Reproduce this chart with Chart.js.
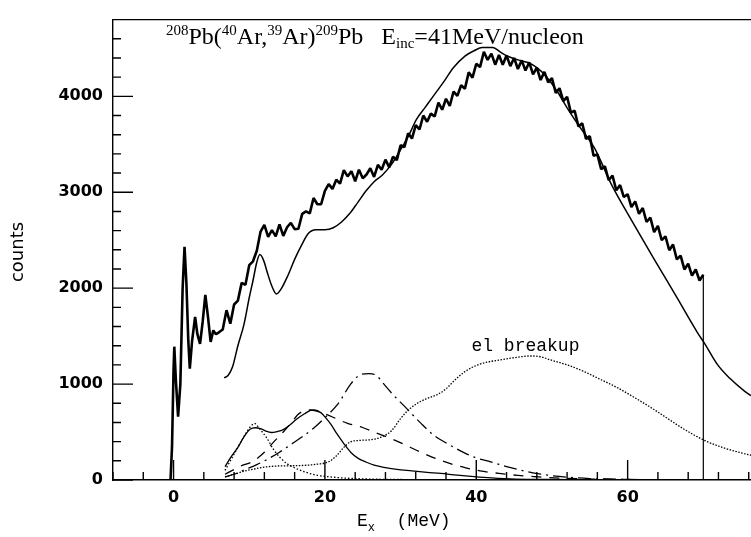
<!DOCTYPE html>
<html>
<head>
<meta charset="utf-8">
<script src="https://cdn.jsdelivr.net/npm/chart.js@4.4.1/dist/chart.umd.min.js"></script>
<style>
  html, body { margin: 0; padding: 0; background: #fff; }
  #wrap { width: 751px; height: 537px; }
</style>
</head>
<body>
<div id="wrap"><canvas id="chart-spectrum"></canvas></div>
<script>
/* 208Pb(40Ar,39Ar)209Pb excitation spectrum */

const X_LABELS = [0, 20, 40, 60];
const Y_LABELS = [0, 1000, 2000, 3000, 4000];

// measured counts [Ex MeV, counts]
const measured = [
  [-0.4, 0], [-0.2, 350], [0, 1150], [0.1, 1390], [0.3, 1050], [0.6, 660], [0.9, 1000],
  [1.2, 2000], [1.45, 2430], [1.7, 2050], [1.95, 1450], [2.15, 1160], [2.45, 1450],
  [2.85, 1700], [3.15, 1520], [3.5, 1420], [3.85, 1650], [4.2, 1930], [4.55, 1700],
  [4.9, 1440], [5.25, 1560], [5.6, 1520],
  [6.0, 1540], [6.5, 1570], [7.0, 1770], [7.5, 1630], [8.0, 1830], [8.5, 1870],
  [9.0, 2055], [9.5, 2035], [10.0, 2240], [10.5, 2280], [11.0, 2390], [11.5, 2590],
  [12.0, 2660], [12.5, 2535], [13.0, 2605], [13.5, 2540], [14.0, 2665], [14.5, 2545],
  [15.0, 2635], [15.5, 2680], [16.0, 2615], [16.5, 2620], [17.0, 2775], [17.5, 2800],
  [18.0, 2780], [18.5, 2940], [19.0, 2875], [19.5, 2875], [20.0, 3015], [20.5, 3085],
  [21.0, 3035], [21.5, 3130], [22.0, 3090], [22.5, 3230], [23.0, 3165], [23.5, 3220],
  [24.0, 3115], [24.5, 3235], [25.0, 3145], [25.5, 3185], [26.0, 3250], [26.5, 3160],
  [27.0, 3285], [27.5, 3235], [28.0, 3340], [28.5, 3260], [29.0, 3370], [29.5, 3335],
  [30.0, 3490], [30.5, 3470], [31.0, 3615], [31.5, 3560], [32.0, 3700], [32.5, 3655],
  [33.0, 3800], [33.5, 3735], [34.0, 3820], [34.5, 3790], [35.0, 3935], [35.5, 3860],
  [36.0, 3975], [36.5, 3900], [37.0, 4050], [37.5, 4005], [38.0, 4115], [38.5, 4080],
  [39.0, 4250], [39.5, 4195], [40.0, 4340], [40.5, 4305], [41.0, 4465], [41.5, 4380],
  [42.0, 4445], [42.5, 4330], [43.0, 4430], [43.5, 4330], [44.0, 4425], [44.5, 4315],
  [45.0, 4400], [45.5, 4285], [46.0, 4375], [46.5, 4270], [47.0, 4355], [47.5, 4230],
  [48.0, 4300], [48.5, 4170], [49.0, 4255], [49.5, 4145], [50.0, 4190], [50.5, 4035],
  [51.0, 4085], [51.5, 3950], [52.0, 3995], [52.5, 3830], [53.0, 3850], [53.5, 3685],
  [54.0, 3720], [54.5, 3555], [55.0, 3585], [55.5, 3380], [56.0, 3395], [56.5, 3240],
  [57.0, 3270], [57.5, 3125], [58.0, 3175], [58.5, 3020], [59.0, 3075], [59.5, 2950],
  [60.0, 2980], [60.5, 2845], [61.0, 2905], [61.5, 2775], [62.0, 2835], [62.5, 2690],
  [63.0, 2735], [63.5, 2585], [64.0, 2650], [64.5, 2500], [65.0, 2540], [65.5, 2395],
  [66.0, 2455], [66.5, 2300], [67.0, 2340], [67.5, 2195], [68.0, 2255], [68.5, 2130],
  [69.0, 2195], [69.5, 2080], [70.0, 2140],
];
const cutoff = [[70, 2140], [70, 0]];

// total calculation (thin solid)
const total = [
  [6.7, 1065], [7.2, 1090], [7.8, 1180], [8.5, 1400], [9.3, 1620], [10.0, 1900],
  [10.5, 2080], [11.0, 2270], [11.4, 2350], [11.9, 2290], [12.4, 2160], [13.0, 2020],
  [13.6, 1940], [14.2, 1990], [15.1, 2130], [16.0, 2300], [16.8, 2430], [17.8, 2570],
  [18.8, 2610], [20.0, 2610], [21.1, 2630], [22.2, 2690], [23.3, 2780], [24.4, 2900],
  [25.5, 3020], [26.5, 3110], [27.6, 3180], [28.8, 3290], [29.9, 3430], [31.0, 3580],
  [32.1, 3760], [33.2, 3880], [34.3, 4000], [35.6, 4140], [37.0, 4300], [38.5, 4420],
  [39.7, 4475], [40.8, 4510], [42.2, 4510], [43.2, 4460], [44.1, 4420], [45.5, 4380],
  [46.9, 4350], [48.0, 4300], [49.1, 4220], [50.7, 4050], [52.0, 3880], [53.5, 3700],
  [55.7, 3450], [57.8, 3090], [60.5, 2710], [63.3, 2330], [66.6, 1890], [69.2, 1540],
  [70.2, 1420], [71.9, 1200], [73.5, 1060], [75.4, 930], [76.3, 880],
];

// components
const dottedPeak = [
  [6.8, 100], [7.5, 200], [8.5, 340], [9.5, 480], [10.2, 560], [10.7, 590], [11.3, 540],
  [12.3, 440], [13.2, 320], [14.0, 240], [15.0, 170], [16.2, 120], [17.5, 80], [18.9, 50],
  [21.0, 30], [23.3, 17], [27.0, 8], [32.0, 4], [40.0, 1],
];
const solidPeaks = [
  [6.8, 140], [7.6, 240], [8.5, 340], [9.3, 450], [10.1, 530], [10.8, 545], [11.5, 535],
  [12.2, 510], [12.9, 495], [13.7, 505], [14.5, 525], [15.4, 575], [16.2, 630], [17.3, 690],
  [18.1, 725], [18.6, 730], [19.5, 700], [20.2, 640], [20.8, 580], [21.6, 480], [22.5, 380],
  [23.4, 290], [24.4, 225], [25.5, 185], [26.5, 155], [27.6, 135], [29.5, 110], [31.5, 95],
  [33.5, 80], [35.3, 68], [37.5, 50], [39.7, 35], [42.0, 22], [45.2, 10], [50.0, 5],
  [55.0, 2], [60.0, 1],
];
const dashedBump = [
  [6.8, 60], [8.0, 110], [9.0, 150], [10.4, 190], [12.0, 290], [13.4, 410], [14.5, 500],
  [15.6, 600], [16.4, 680], [17.2, 720], [18.1, 730], [19.0, 715], [20.0, 690], [21.5, 640],
  [23.0, 590], [24.9, 550], [26.5, 500], [28.8, 430], [30.5, 370], [32.1, 310], [33.7, 255],
  [35.3, 206], [37.0, 160], [38.6, 127], [40.5, 95], [43.0, 69], [45.5, 48], [48.0, 34],
  [51.0, 20], [55.0, 10], [60.0, 5], [65.0, 2],
];
const dashDotBump = [
  [6.8, 30], [8.0, 60], [9.5, 110], [11.0, 160], [12.5, 220], [14.0, 290], [15.5, 370],
  [17.0, 450], [18.5, 540], [20.0, 650], [21.7, 790], [23.4, 1000], [24.5, 1090],
  [25.8, 1110], [26.8, 1090], [27.8, 1000], [29.0, 890], [30.5, 770], [32.7, 590],
  [34.5, 460], [36.6, 360], [38.5, 280], [40.0, 230], [41.9, 189], [44.0, 140], [46.0, 100],
  [47.5, 75], [49.4, 51], [52.0, 30], [55.0, 15], [60.0, 6], [65.0, 2],
];
const elBreakup = [
  [6.8, 35], [8.0, 60], [9.5, 95], [11.0, 120], [12.3, 137], [13.5, 145], [15.1, 148],
  [16.5, 150], [17.8, 155], [19.0, 165], [20.5, 190], [21.5, 250], [22.5, 340], [23.3, 395],
  [24.5, 412], [26.0, 420], [27.4, 446], [28.8, 514], [30.0, 640], [30.9, 720], [32.0, 790],
  [33.5, 850], [34.9, 892], [36.0, 950], [37.0, 1029], [38.5, 1130], [40.2, 1200],
  [41.5, 1230], [43.2, 1252], [45.0, 1275], [47.2, 1293], [48.5, 1285], [49.8, 1252],
  [52.0, 1200], [54.2, 1132], [56.5, 1045], [58.7, 960], [61.0, 855], [63.1, 754],
  [65.3, 640], [67.4, 532], [70.2, 411], [72.5, 340], [75.4, 275], [76.3, 258],
];

const xy = arr => arr.map(([x, y]) => ({ x, y }));

function line(data, opts) {
  return Object.assign({
    data: xy(data),
    borderColor: '#000',
    borderWidth: 1.3,
    pointRadius: 0,
    fill: false,
    cubicInterpolationMode: 'monotone',
  }, opts);
}

/* text + inward ticks, drawn by hand like the original plot */
const frame = {
  id: 'frame',
  afterDatasetsDraw(chart) {
    const { ctx, chartArea: a, scales: { x, y } } = chart;
    ctx.save();
    ctx.strokeStyle = '#000';
    ctx.lineWidth = 1.4;
    ctx.beginPath();
    ctx.moveTo(a.left, a.top); ctx.lineTo(a.right, a.top);
    for (let v = -8; v <= 76; v += 4) {
      const px = x.getPixelForValue(v);
      ctx.moveTo(px, a.bottom); ctx.lineTo(px, a.bottom - (v % 20 === 0 ? 20 : 8));
    }
    for (let v = 0; v <= 4800; v += 200) {
      const py = y.getPixelForValue(v);
      ctx.moveTo(a.left, py); ctx.lineTo(a.left + (v % 1000 === 0 ? 20 : 8), py);
    }
    ctx.stroke();

    ctx.fillStyle = '#000';
    ctx.textBaseline = 'alphabetic';
    // title with super/subscripts
    const parts = [
      ['208', 1], ['Pb(', 0], ['40', 1], ['Ar,', 0], ['39', 1], ['Ar)', 0], ['209', 1],
      ['Pb   E', 0], ['inc', -1], ['=41MeV/nucleon', 0],
    ];
    let tx = a.left + 53;
    const ty = a.top + 24;
    for (const [t, s] of parts) {
      ctx.font = s ? '15px "Liberation Serif"' : '24px "Liberation Serif"';
      ctx.fillText(t, tx, ty + (s === 1 ? -9 : s === -1 ? 4 : 0));
      tx += ctx.measureText(t).width;
    }

    // el breakup label
    ctx.font = '18px "Liberation Mono"';
    ctx.textAlign = 'center';
    ctx.textBaseline = 'middle';
    ctx.fillText('el breakup', x.getPixelForValue(46.5), y.getPixelForValue(1390));

    // x axis title
    ctx.textAlign = 'left';
    ctx.textBaseline = 'alphabetic';
    ctx.font = '18px "Liberation Mono"';
    let ex = 357;
    const ey = 526;
    ctx.fillText('E', ex, ey); ex += ctx.measureText('E').width;
    ctx.font = '12px "Liberation Mono"';
    ctx.fillText('x', ex, ey + 5); ex += ctx.measureText('x').width;
    ctx.font = '18px "Liberation Mono"';
    ctx.fillText('  (MeV)', ex, ey);

    // y axis title
    ctx.translate(18, 252);
    ctx.rotate(-Math.PI / 2);
    ctx.font = '18px "DejaVu Sans"';
    ctx.textAlign = 'center';
    ctx.textBaseline = 'middle';
    ctx.fillText('counts', 0, 0);
    ctx.restore();
  },
};

const tickFont = { family: 'DejaVu Sans', size: 16, weight: 'bold' };

new Chart(document.getElementById('chart-spectrum'), {
  type: 'line',
  data: {
    datasets: [
      line(measured, { borderWidth: 2.6, borderJoinStyle: 'bevel', cubicInterpolationMode: 'default', tension: 0 }),
      line(cutoff, { borderWidth: 1.2, tension: 0 }),
      line(total, { borderWidth: 1.5 }),
      line(solidPeaks, { borderWidth: 1.3 }),
      line(dottedPeak, { borderWidth: 1.3, borderDash: [1.5, 2] }),
      line(dashedBump, { borderWidth: 1.3, borderDash: [10, 8] }),
      line(dashDotBump, { borderWidth: 1.3, borderDash: [13, 5, 2, 5] }),
      line(elBreakup, { borderWidth: 1.3, borderDash: [1.5, 1.5] }),
    ],
  },
  options: {
    responsive: true,
    maintainAspectRatio: false,
    animation: false,
    layout: { padding: { top: 14, right: 0, left: 0, bottom: 0 } },
    plugins: { legend: { display: false }, tooltip: { enabled: false } },
    scales: {
      x: {
        type: 'linear',
        min: -8, max: 76.3,
        afterBuildTicks: s => { s.ticks = X_LABELS.map(v => ({ value: v })); },
        afterFit: s => { s.height = 57; },
        grid: { display: false, drawTicks: false },
        border: { display: true, color: '#000', width: 1.4 },
        ticks: { color: '#000', padding: 8, font: tickFont, callback: v => String(v) },
      },
      y: {
        min: 0, max: 4800,
        afterBuildTicks: s => { s.ticks = Y_LABELS.map(v => ({ value: v })); },
        afterFit: s => { s.width = 113; },
        grid: { display: false, drawTicks: false },
        border: { display: true, color: '#000', width: 1.4 },
        ticks: { color: '#000', padding: 10, font: tickFont, callback: v => String(v) },
      },
    },
  },
  plugins: [frame],
});
</script>
</body>
</html>
